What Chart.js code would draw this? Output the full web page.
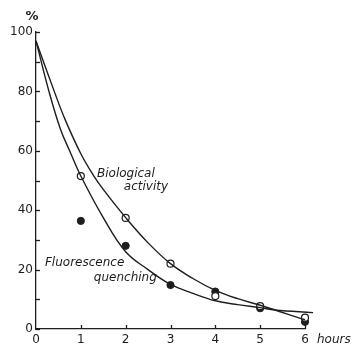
<!DOCTYPE html>
<html>
<head>
<meta charset="utf-8">
<script src="https://cdn.jsdelivr.net/npm/chart.js@4/dist/chart.umd.min.js"></script>
<style>
  html, body { margin: 0; padding: 0; background: #fff; }
  #wrap { width: 354px; height: 347px; position: relative; }
</style>
</head>
<body>
<div id="wrap"><canvas id="c"></canvas></div>
<script>
// Measured points (hours, %)
const hours = [1, 2, 3, 4, 5, 6];
const biologicalActivity = [51.5, 37.4, 22, 11.1, 7.7, 3.8];
const fluorescenceQuenching = [36.4, 28, 14.8, 12.6, 7.0, 2.4];

// Fitted curves
const bioCurveX = [0, 0.42, 0.65, 1, 1.27, 1.5, 2, 2.5, 3, 3.5, 4, 4.5, 5, 5.33, 6, 6.27];
const bioCurveY = [97, 79.5, 70.5, 59, 52, 47, 37.5, 29, 22, 17, 13, 10.2, 8, 6.4, 3.1, 2];
const fluCurveX = [0, 0.28, 0.54, 0.75, 1, 1.5, 2, 2.5, 3, 3.5, 4, 4.5, 5, 5.33, 6.18];
const fluCurveY = [97, 80.5, 67.5, 60, 51.5, 37.5, 26, 20, 15, 12, 9.5, 8.2, 7.2, 6.4, 5.5];

// Tick labels
const xTickLabels = ['0', '1', '2', '3', '4', '5', '6'];
const yTickLabels = ['0', '20', '40', '60', '80', '100'];

const zip = (xs, ys) => xs.map((x, i) => ({ x: x, y: ys[i] }));

const INK = '#1e1e1e';

const decorPlugin = {
  id: 'decor',
  afterDraw(chart) {
    const ctx = chart.ctx;
    const xs = chart.scales.x, ys = chart.scales.y;
    const a = chart.chartArea;
    ctx.save();
    ctx.strokeStyle = INK;
    ctx.lineWidth = 1.3;
    // inward ticks on y axis
    for (let v = 0; v <= 100; v += 10) {
      const py = Math.round(ys.getPixelForValue(v)) + 0.5;
      ctx.beginPath();
      ctx.moveTo(a.left, py);
      ctx.lineTo(a.left + 4, py);
      ctx.stroke();
    }
    // inward ticks on x axis
    for (let v = 1; v <= 6; v++) {
      const px = Math.round(xs.getPixelForValue(v)) + 0.5;
      ctx.beginPath();
      ctx.moveTo(px, a.bottom);
      ctx.lineTo(px, a.bottom - 4);
      ctx.stroke();
    }
    // texts
    ctx.fillStyle = INK;
    ctx.textBaseline = 'middle';
    ctx.textAlign = 'center';
    ctx.font = 'bold 13px "DejaVu Sans"';
    ctx.fillText('%', a.left - 4, a.top - 15);
    ctx.textAlign = 'left';
    ctx.font = 'italic 12px "DejaVu Sans"';
    ctx.fillText('hours', xs.getPixelForValue(6) + 12, a.bottom + 11);
    const labels = [
      ['Biological', 1.36, 52.2],
      ['activity', 1.96, 47.8],
      ['Fluorescence', 0.2, 22.2],
      ['quenching', 1.29, 17.2]
    ];
    labels.forEach(l => {
      ctx.fillText(l[0], xs.getPixelForValue(l[1]), ys.getPixelForValue(l[2]));
    });
    ctx.restore();
  }
};

new Chart(document.getElementById('c'), {
  type: 'scatter',
  data: {
    datasets: [
      {
        type: 'line', label: 'Biological activity curve',
        data: zip(bioCurveX, bioCurveY),
        borderColor: INK, borderWidth: 1.4, pointRadius: 0,
        tension: 0.4, fill: false, clip: false
      },
      {
        type: 'line', label: 'Fluorescence quenching curve',
        data: zip(fluCurveX, fluCurveY),
        borderColor: INK, borderWidth: 1.4, pointRadius: 0,
        tension: 0.4, fill: false, clip: false
      },
      {
        label: 'Biological activity',
        data: zip(hours, biologicalActivity),
        pointRadius: 3.5, pointBackgroundColor: '#fff',
        pointBorderColor: INK, pointBorderWidth: 1.2, clip: false
      },
      {
        label: 'Fluorescence quenching',
        data: zip(hours, fluorescenceQuenching),
        pointRadius: 3.6, pointBackgroundColor: INK,
        pointBorderColor: INK, pointBorderWidth: 1, clip: false
      }
    ]
  },
  options: {
    responsive: true,
    maintainAspectRatio: false,
    animation: false,
    layout: { padding: { left: 0, right: 49, top: 32, bottom: 0 } },
    plugins: { legend: { display: false }, tooltip: { enabled: false } },
    scales: {
      x: {
        type: 'linear', min: 0, max: 6,
        grid: { display: false, tickLength: 0 },
        border: { display: true, color: INK, width: 1.3 },
        ticks: {
          stepSize: 1, padding: 4, color: INK,
          font: { family: 'DejaVu Sans', size: 12 },
          callback: (v) => xTickLabels[v] !== undefined ? xTickLabels[v] : ''
        },
        afterFit: (s) => { s.height = 18; }
      },
      y: {
        type: 'linear', min: 0, max: 100,
        grid: { display: false, tickLength: 0 },
        border: { display: true, color: INK, width: 1.3 },
        ticks: {
          stepSize: 20, padding: 3, color: INK,
          font: { family: 'DejaVu Sans', size: 12 },
          callback: (v) => { const s = String(v); return yTickLabels.includes(s) ? s : ''; }
        },
        afterFit: (s) => { s.width = 36; }
      }
    }
  },
  plugins: [decorPlugin]
});
</script>
</body>
</html>
